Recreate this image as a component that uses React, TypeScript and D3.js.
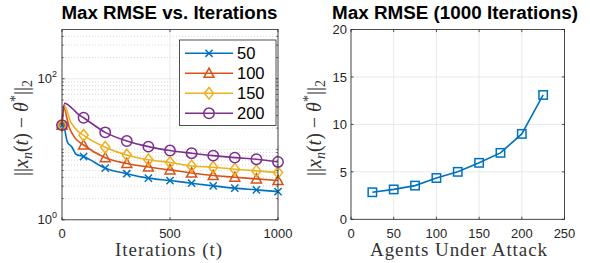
import React from "react";
import * as d3 from "d3";

// ---------- data ----------
const markerIters = [0, 100, 200, 300, 400, 500, 600, 700, 800, 900, 1000];
const seriesNames = ["50", "100", "150", "200"];
const markerVals50 = [22, 7.9, 5.4, 4.5, 3.9, 3.6, 3.3, 3.03, 2.81, 2.66, 2.51];
const markerVals100 = [22, 11.5, 7.6, 6.3, 5.6, 5.1, 4.6, 4.24, 4.02, 3.8, 3.6];
const markerVals150 = [22, 15.8, 10.7, 8.3, 7.1, 6.5, 5.8, 5.57, 5.22, 4.94, 4.67];
const markerVals200 = [22, 28.0, 17.4, 13.1, 10.9, 9.6, 8.8, 8.13, 7.62, 7.23, 6.62];
// early transient (between t=0 and t=100)
const earlyIters50 = [3, 26, 45, 65];
const earlyVals50 = [24, 12.4, 10.9, 8.5];
const earlyIters100 = [6, 34, 60];
const earlyVals100 = [40.4, 20.2, 14.5];
const earlyIters150 = [9, 42, 70];
const earlyVals150 = [42.7, 23.8, 18.5];
const earlyIters200 = [12, 49, 75];
const earlyVals200 = [45, 37.6, 31.5];

const agents = [25, 50, 75, 100, 125, 150, 175, 200, 225];
const agentErr = [2.85, 3.15, 3.55, 4.35, 5.0, 5.95, 7.0, 9.0, 13.1];

const leftXTicks = [0, 500, 1000];
const leftYMajor = [1, 100];
const leftYExp = ["0", "2"];
const rightXTicks = [0, 50, 100, 150, 200, 250];
const rightYTicks = [0, 5, 10, 15, 20];

const colors = ["#0072BD", "#D95319", "#EDB120", "#7E2F8E"];
const markerKinds = ["x", "triangle", "diamond", "circle"];

// ---------- layout ----------
const W = 590, H = 263;
const L = { x0: 62, x1: 278, y0: 29.5, y1: 219.8 };
const R = { x0: 351, x1: 564.5, y0: 29.5, y1: 219.3 };
const AX = "#262626";
const TXT = "#262626";
const GRID = "#e3e3e3";
const MINOR = "#cfcfcf";
const SANS = "Liberation Sans, Arial, Helvetica, sans-serif";
const SERIF = "Liberation Serif, Times New Roman, serif";

const xL = d3.scaleLinear().domain([0, 1000]).range([L.x0, L.x1]);
const yL = d3.scaleLog().domain([1, 500]).range([L.y1, L.y0]);
const xR = d3.scaleLinear().domain([0, 250]).range([R.x0, R.x1]);
const yR = d3.scaleLinear().domain([0, 20]).range([R.y1, R.y0]);

const minorVals: number[] = [];
[1, 10, 100].forEach((d) => {
  for (let k = d === 1 ? 2 : 1; k <= 9; k++) {
    const v = d * k;
    if (v < 500 && v !== 100) minorVals.push(v);
  }
});

function Marker({ kind, x, y, color }: { kind: string; x: number; y: number; color: string }) {
  const sw = 1.5;
  if (kind === "x") {
    const s = 3.6;
    return (
      <path
        d={`M${x - s},${y - s}L${x + s},${y + s}M${x - s},${y + s}L${x + s},${y - s}`}
        stroke={color}
        strokeWidth={sw}
        fill="none"
      />
    );
  }
  if (kind === "triangle") {
    const w = 5, h = 4.6;
    return (
      <path
        d={`M${x},${y - h - 0.6}L${x + w},${y + h - 0.6}L${x - w},${y + h - 0.6}Z`}
        stroke={color}
        strokeWidth={sw}
        fill="none"
      />
    );
  }
  if (kind === "diamond") {
    const w = 4.6, h = 5.8;
    return (
      <path
        d={`M${x},${y - h}L${x + w},${y}L${x},${y + h}L${x - w},${y}Z`}
        stroke={color}
        strokeWidth={sw}
        fill="none"
      />
    );
  }
  if (kind === "square") {
    const s = 4.2;
    return <rect x={x - s} y={y - s} width={2 * s} height={2 * s} stroke={color} strokeWidth={sw} fill="none" />;
  }
  return <circle cx={x} cy={y} r={5.2} stroke={color} strokeWidth={sw} fill="none" />;
}

function YLabel({ x, y }: { x: number; y: number }) {
  const fs = 20;
  return (
    <text
      transform={`translate(${x},${y}) rotate(-90)`}
      textAnchor="middle"
      fontFamily={SERIF}
      fontSize={fs}
      fill="#333"
    >
      <tspan>||</tspan>
      <tspan fontStyle="italic">x</tspan>
      <tspan fontStyle="italic" fontSize={fs * 0.7} dy={4}>n</tspan>
      <tspan dy={-4}>(</tspan>
      <tspan fontStyle="italic">t</tspan>
      <tspan>) − </tspan>
      <tspan fontStyle="italic">θ</tspan>
      <tspan fontSize={fs * 0.7} dy={-8}>*</tspan>
      <tspan dy={8}>||</tspan>
      <tspan fontSize={fs * 0.7} dy={4}>2</tspan>
    </text>
  );
}

export default function App() {
  const markerSets = [markerVals50, markerVals100, markerVals150, markerVals200];
  const earlyI = [earlyIters50, earlyIters100, earlyIters150, earlyIters200];
  const earlyV = [earlyVals50, earlyVals100, earlyVals150, earlyVals200];

  const line = d3
    .line<[number, number]>()
    .x((d) => xL(d[0]))
    .y((d) => yL(d[1]))
    .curve(d3.curveMonotoneX);

  const rLine = d3
    .line<number>()
    .x((_, i) => xR(agents[i]))
    .y((d) => yR(d));

  const tick = 2.6;

  return (
    <svg width={W} height={H} style={{ position: "absolute", left: 0, top: 0, background: "#fff" }}>
      <rect x={0} y={0} width={W} height={H} fill="#fff" />
      {/* ---------------- LEFT PANEL ---------------- */}
      <g>
        <rect x={L.x0} y={L.y0} width={L.x1 - L.x0} height={L.y1 - L.y0} fill="#fff" />
        {minorVals.map((v) => (
          <line key={"mn" + v} x1={L.x0} x2={L.x1} y1={yL(v)} y2={yL(v)} stroke={MINOR} strokeWidth={0.8} strokeDasharray="1,2" />
        ))}
        {leftYMajor.map((v) => (
          <line key={"mj" + v} x1={L.x0} x2={L.x1} y1={yL(v)} y2={yL(v)} stroke={GRID} strokeWidth={0.8} />
        ))}
        {leftXTicks.map((v) => (
          <line key={"gx" + v} x1={xL(v)} x2={xL(v)} y1={L.y0} y2={L.y1} stroke={GRID} strokeWidth={0.8} />
        ))}

        {/* series lines */}
        {markerSets.map((vals, si) => {
          const pts: [number, number][] = [[markerIters[0], vals[0]]];
          earlyI[si].forEach((t, k) => pts.push([t, earlyV[si][k]]));
          markerIters.slice(1).forEach((t, k) => pts.push([t, vals[k + 1]]));
          return <path key={"ln" + si} d={line(pts) || ""} stroke={colors[si]} strokeWidth={1.6} fill="none" />;
        })}
        {markerSets.map((vals, si) =>
          vals.map((v, k) => (
            <Marker key={`m${si}-${k}`} kind={markerKinds[si]} x={xL(markerIters[k])} y={yL(v)} color={colors[si]} />
          ))
        )}

        {/* ticks */}
        {leftXTicks.map((v) => (
          <g key={"tx" + v}>
            <line x1={xL(v)} x2={xL(v)} y1={L.y1} y2={L.y1 - tick} stroke={AX} strokeWidth={0.8} />
            <line x1={xL(v)} x2={xL(v)} y1={L.y0} y2={L.y0 + tick} stroke={AX} strokeWidth={0.8} />
            <text x={xL(v)} y={237.5} textAnchor="middle" fontFamily={SANS} fontSize={13} fill={TXT}>
              {v}
            </text>
          </g>
        ))}
        {minorVals.map((v) => (
          <g key={"mt" + v}>
            <line x1={L.x0} x2={L.x0 + 1.6} y1={yL(v)} y2={yL(v)} stroke={AX} strokeWidth={0.8} />
            <line x1={L.x1} x2={L.x1 - 1.6} y1={yL(v)} y2={yL(v)} stroke={AX} strokeWidth={0.8} />
          </g>
        ))}
        {leftYMajor.map((v, i) => (
          <g key={"ty" + v}>
            <line x1={L.x0} x2={L.x0 + tick} y1={yL(v)} y2={yL(v)} stroke={AX} strokeWidth={0.8} />
            <line x1={L.x1} x2={L.x1 - tick} y1={yL(v)} y2={yL(v)} stroke={AX} strokeWidth={0.8} />
            <text x={57} y={yL(v) + 4.5} textAnchor="end" fontFamily={SANS} fontSize={13} fill={TXT}>
              10
              <tspan fontSize={9} dy={-6}>
                {leftYExp[i]}
              </tspan>
            </text>
          </g>
        ))}
        <rect x={L.x0} y={L.y0} width={L.x1 - L.x0} height={L.y1 - L.y0} fill="none" stroke={AX} strokeWidth={0.8} />

        {/* legend */}
        <rect x={179.5} y={40} width={96.5} height={85.5} fill="#fff" stroke={AX} strokeWidth={0.8} />
        {seriesNames.map((name, i) => {
          const yy = 53.3 + i * 20;
          return (
            <g key={"lg" + name}>
              <line x1={185} x2={233} y1={yy} y2={yy} stroke={colors[i]} strokeWidth={1.6} />
              <Marker kind={markerKinds[i]} x={209} y={yy} color={colors[i]} />
              <text x={237} y={yy + 6} fontFamily={SANS} fontSize={16.5} fill="#000">
                {name}
              </text>
            </g>
          );
        })}

        {/* labels */}
        <text x={169.5} y={18.5} textAnchor="middle" fontFamily={SANS} fontWeight="bold" fontSize={18} fill="#000" textLength={216} lengthAdjust="spacingAndGlyphs">
          Max RMSE vs. Iterations
        </text>
        <text x={168.5} y={256} textAnchor="middle" fontFamily={SERIF} fontSize={19} fill="#333" textLength={107} lengthAdjust="spacing">
          Iterations (t)
        </text>
        <YLabel x={28} y={128} />
      </g>

      {/* ---------------- RIGHT PANEL ---------------- */}
      <g>
        {rightXTicks.map((v) => (
          <line key={"rgx" + v} x1={xR(v)} x2={xR(v)} y1={R.y0} y2={R.y1} stroke={GRID} strokeWidth={0.8} />
        ))}
        {rightYTicks.map((v) => (
          <line key={"rgy" + v} x1={R.x0} x2={R.x1} y1={yR(v)} y2={yR(v)} stroke={GRID} strokeWidth={0.8} />
        ))}
        <path d={rLine(agentErr) || ""} stroke={colors[0]} strokeWidth={1.6} fill="none" />
        {agentErr.map((v, i) => (
          <Marker key={"rm" + i} kind="square" x={xR(agents[i])} y={yR(v)} color={colors[0]} />
        ))}
        {rightXTicks.map((v) => (
          <g key={"rtx" + v}>
            <line x1={xR(v)} x2={xR(v)} y1={R.y1} y2={R.y1 - tick} stroke={AX} strokeWidth={0.8} />
            <line x1={xR(v)} x2={xR(v)} y1={R.y0} y2={R.y0 + tick} stroke={AX} strokeWidth={0.8} />
            <text x={xR(v)} y={237.5} textAnchor="middle" fontFamily={SANS} fontSize={13} fill={TXT}>
              {v}
            </text>
          </g>
        ))}
        {rightYTicks.map((v) => (
          <g key={"rty" + v}>
            <line x1={R.x0} x2={R.x0 + tick} y1={yR(v)} y2={yR(v)} stroke={AX} strokeWidth={0.8} />
            <line x1={R.x1} x2={R.x1 - tick} y1={yR(v)} y2={yR(v)} stroke={AX} strokeWidth={0.8} />
            <text x={347} y={yR(v) + 4.8} textAnchor="end" fontFamily={SANS} fontSize={13} fill={TXT}>
              {v}
            </text>
          </g>
        ))}
        <rect x={R.x0} y={R.y0} width={R.x1 - R.x0} height={R.y1 - R.y0} fill="none" stroke={AX} strokeWidth={0.8} />
        <text x={455} y={18.5} textAnchor="middle" fontFamily={SANS} fontWeight="bold" fontSize={18} fill="#000" textLength={246} lengthAdjust="spacingAndGlyphs">
          Max RMSE (1000 Iterations)
        </text>
        <text x={458.5} y={256} textAnchor="middle" fontFamily={SERIF} fontSize={19} fill="#333" textLength={177} lengthAdjust="spacing">
          Agents Under Attack
        </text>
        <YLabel x={321} y={128} />
      </g>
    </svg>
  );
}
